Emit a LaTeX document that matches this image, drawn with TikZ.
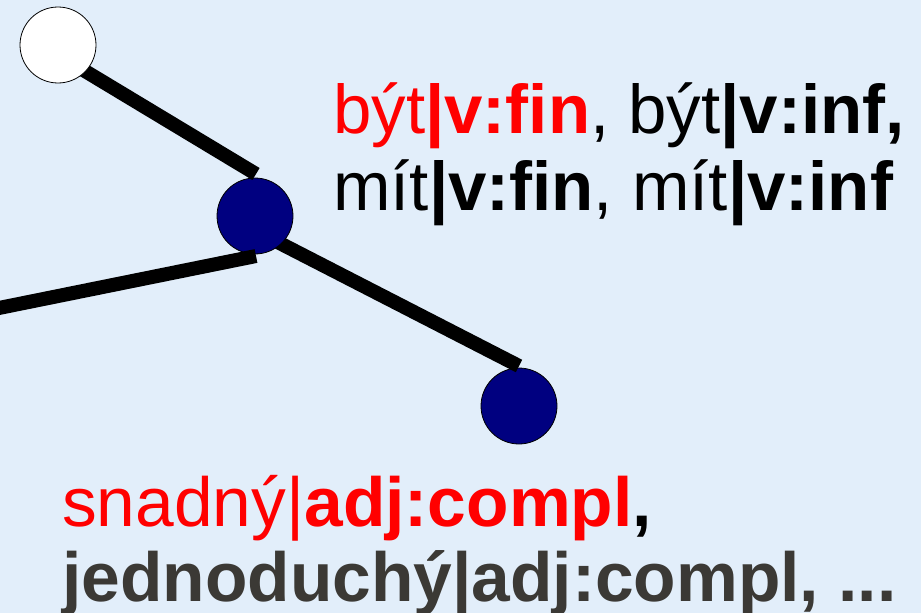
\documentclass[tikz,border=0pt]{standalone}
\usepackage{fontspec}
\setmainfont{Liberation Sans}
\definecolor{bgblue}{HTML}{E2EEFA}
\definecolor{navyfill}{HTML}{000080}
\definecolor{darkgraytext}{HTML}{3B3935}
\definecolor{redtext}{HTML}{FF0000}
\begin{document}
\begin{tikzpicture}[x=1pt,y=-1pt,
  vertex/.style={circle,draw=black,line width=0.8pt,minimum size=76pt,inner sep=0pt},
  navyvertex/.style={vertex,fill=navyfill},
  whitevertex/.style={vertex,fill=white},
  edge/.style={line width=14pt,line cap=butt,black},
  bigtext/.style={font=\fontsize{69}{76}\selectfont,anchor=base west,inner sep=0pt},
  bottomtext/.style={font=\fontsize{69.5}{76}\selectfont,anchor=base west,inner sep=0pt}]
\fill[bgblue] (0,0) rectangle (921,613);
\useasboundingbox (0,0) rectangle (921,613);
% endpoints of the connectors
\coordinate (l1a) at (80,68);
\coordinate (l1b) at (256,174);
\coordinate (l2a) at (-6,309);
\coordinate (l2b) at (256,256);
\coordinate (l3a) at (262,234);
\coordinate (l3b) at (519,366);
% bottom vertex and its edge
\node[navyvertex] (c2) at (519,406) {};
\draw[edge] (l3a) -- (l3b);
% middle vertex
\node[navyvertex] (c1) at (255,216) {};
\draw[edge] (l1a) -- (l1b);
\draw[edge] (l2a) -- (l2b);
% root vertex
\node[whitevertex] (c0) at (58,45) {};
% texts
\node[bigtext] (t1) at (333,133) {\textcolor{redtext}{být\textbf{|v:fin}}, být\textbf{|v:inf,}};
\node[bigtext] (t2) at (333,210) {mít\textbf{|v:fin}, mít\textbf{|v:inf}};
\node[bottomtext] (b1) at (62,526) {\textcolor{redtext}{snadný|\textbf{adj:compl}}\textbf{,}};
\node[bottomtext,text=darkgraytext] (b2) at (62,601) {\textbf{jednoduchý|adj:compl, ...}};
\end{tikzpicture}
\end{document}
